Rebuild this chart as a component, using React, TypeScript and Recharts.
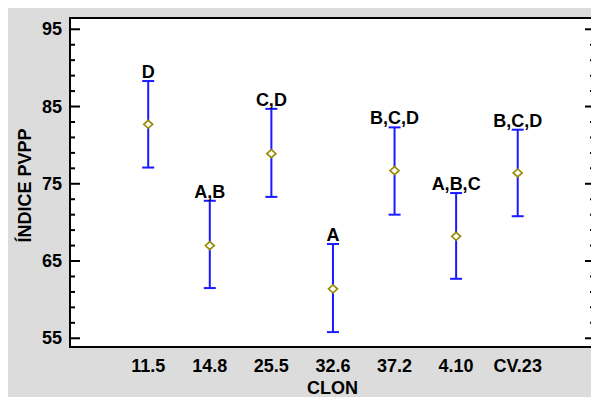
import React from 'react';
import { ComposedChart, Scatter, ErrorBar, XAxis, YAxis } from 'recharts';

// clones on the x axis and their interval estimates
const clones = ['11.5', '14.8', '25.5', '32.6', '37.2', '4.10', 'CV.23'];
const means = [82.7, 67.0, 78.9, 61.4, 76.7, 68.2, 76.4];
const lows = [77.1, 61.5, 73.3, 55.8, 71.0, 62.7, 70.8];
const highs = [88.3, 72.8, 84.7, 67.2, 82.3, 73.8, 82.0];
const groups = ['D', 'A,B', 'C,D', 'A', 'B,C,D', 'A,B,C', 'B,C,D'];

const yTicks = [55, 57, 59, 61, 63, 65, 67, 69, 71, 73, 75, 77, 79, 81, 83, 85, 87, 89, 91, 93, 95];
const yLabels = [55, 65, 75, 85, 95];
const xTicks = [0, 1, 2, 3, 4, 5, 6];

const Y_DOMAIN: [number, number] = [53.87, 96.46];
const X_DOMAIN: [number, number] = [-1.27, 7.255];

// layout
const W = 589;
const H = 391;
const M_TOP = 12;
const Y_W = 62;
const R_W = 2;
const X_H = 50;

const FONT = 'Arial, "Liberation Sans", sans-serif';
const FS = 18;
const BLUE = '#1a1aff';
const OLIVE = '#958a00';

const rows = clones.map((c, i) => ({
  x: i,
  clone: c,
  mean: means[i],
  high: highs[i],
  err: [means[i] - lows[i], highs[i] - means[i]],
  group: groups[i],
}));

const LeftTick = (props: any) => {
  const { x, y, payload } = props;
  const major = yLabels.includes(payload.value);
  return (
    <g>
      <line x1={x} x2={x + (major ? 10 : 5)} y1={y} y2={y} stroke="#000" strokeWidth={2} />
      {major && (
        <text x={x - 8} y={y} dy={6} textAnchor="end" fontFamily={FONT} fontWeight="bold" fontSize={FS} fill="#000">
          {payload.value}
        </text>
      )}
    </g>
  );
};

const RightTick = (props: any) => {
  const { x, y, payload } = props;
  const major = yLabels.includes(payload.value);
  return <line x1={x} x2={x - (major ? 10 : 5)} y1={y} y2={y} stroke="#000" strokeWidth={2} />;
};

const BottomTick = (props: any) => {
  const { x, y, payload } = props;
  return (
    <text x={x} y={y} dy={25} textAnchor="middle" fontFamily={FONT} fontWeight="bold" fontSize={FS} fill="#000">
      {clones[payload.value]}
    </text>
  );
};

const Diamond = (props: any) => {
  const { cx, cy } = props;
  if (cx == null || cy == null) return null;
  const pts = `${cx - 4.5},${cy} ${cx},${cy - 4} ${cx + 4.5},${cy} ${cx},${cy + 4}`;
  return <polygon points={pts} fill="#fff" stroke={OLIVE} strokeWidth={1.6} />;
};

const GroupLabel = (props: any) => {
  const { cx, cy, payload } = props;
  if (cx == null || cy == null) return null;
  return (
    <text x={cx} y={cy - 3} textAnchor="middle" fontFamily={FONT} fontWeight="bold" fontSize={FS} fill="#000">
      {payload.group}
    </text>
  );
};

const YTitle = (props: any) => {
  const { viewBox } = props;
  const cx = viewBox.x + 23;
  const cy = viewBox.y + viewBox.height / 2 + 3;
  return (
    <text x={cx} y={cy} transform={`rotate(-90 ${cx} ${cy})`} textAnchor="middle" fontFamily={FONT} fontWeight="bold" fontSize={FS} fill="#000">
      ÍNDICE PVPP
    </text>
  );
};

export default function App() {
  return (
    <div style={{ position: 'relative', marginTop: -2, width: W, height: H, background: '#dcdcdc' }}>
      {/* white plot panel with black frame, sits behind the svg */}
      <div
        style={{
          position: 'absolute',
          left: Y_W - 1,
          top: M_TOP - 1,
          width: W - Y_W - R_W + 2,
          height: H - M_TOP - X_H + 2,
          boxSizing: 'border-box',
          border: '2px solid #000',
          background: '#fff',
        }}
      />
      <div style={{ position: 'absolute', left: 0, top: 0 }}>
        <ComposedChart width={W} height={H} data={rows} margin={{ top: M_TOP, right: 0, left: 0, bottom: 0 }}>
          <XAxis
            dataKey="x"
            type="number"
            domain={X_DOMAIN}
            ticks={xTicks}
            allowDataOverflow
            axisLine={false}
            tickLine={false}
            tickSize={0}
            tickMargin={0}
            height={X_H}
            tick={<BottomTick />}
            label={{ value: 'CLON', position: 'insideBottom', offset: 3, fontFamily: FONT, fontWeight: 'bold', fontSize: FS, fill: '#000' }}
          />
          <YAxis
            yAxisId="l"
            domain={Y_DOMAIN}
            ticks={yTicks}
            allowDataOverflow
            width={Y_W}
            axisLine={false}
            tickLine={false}
            tickSize={0}
            tickMargin={0}
            interval={0}
            tick={<LeftTick />}
            label={<YTitle />}
          />
          <YAxis
            yAxisId="r"
            orientation="right"
            domain={Y_DOMAIN}
            ticks={yTicks}
            allowDataOverflow
            width={R_W}
            axisLine={false}
            tickLine={false}
            tickSize={0}
            tickMargin={0}
            interval={0}
            tick={<RightTick />}
          />
          <Scatter yAxisId="l" dataKey="high" shape={<GroupLabel />} isAnimationActive={false} />
          <Scatter yAxisId="l" dataKey="mean" shape={<Diamond />} isAnimationActive={false}>
            <ErrorBar dataKey="err" direction="y" width={6} stroke={BLUE} strokeWidth={2} isAnimationActive={false} />
          </Scatter>
        </ComposedChart>
      </div>
    </div>
  );
}
